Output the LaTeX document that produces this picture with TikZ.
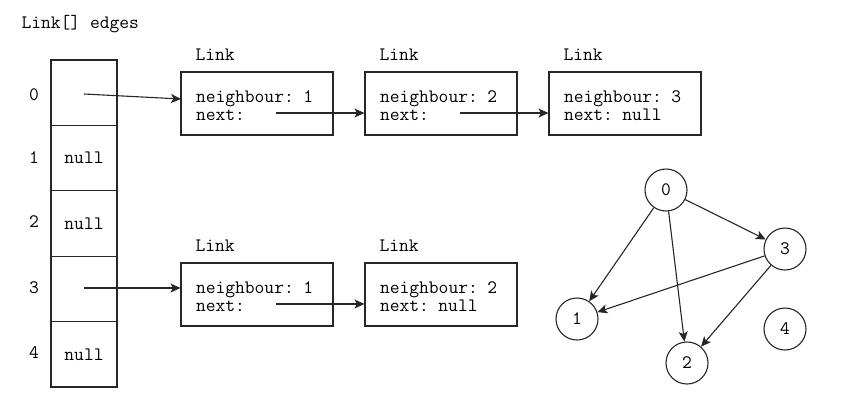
\documentclass[tikz,border=0pt]{standalone}
\usetikzlibrary{arrows.meta}
\newcommand{\topgap}{\rule{0pt}{17pt}}
\begin{document}
\begin{tikzpicture}[x=1pt,y=-1pt,
  font=\ttfamily\fontsize{19}{17}\selectfont,
  line width=1.1pt, draw=black!85,
  cell/.style={draw, minimum width=66pt, minimum height=65.4pt, inner sep=0pt},
  linkbox/.style={draw, minimum width=152pt, minimum height=63pt, text width=122pt, inner xsep=15pt, inner ysep=0pt, align=left},
  gnode/.style={draw, circle, minimum size=42pt, inner sep=0pt},
  lbl/.style={inner sep=0pt, anchor=west},
  arr/.style={-{Stealth[length=10pt,width=9pt,inset=2.5pt]}}]
\useasboundingbox (0,0) rectangle (845,402);
\node[lbl] (title) at (21,24) {Link[] edges};
% array
\node[cell] (c0) at (84,92.7) {};
\node[cell] (c1) at (84,158.1) {null};
\node[cell] (c2) at (84,223.5) {null};
\node[cell] (c3) at (84,288.9) {};
\node[cell] (c4) at (84,354.3) {null};
\foreach \i/\y in {0/95,1/158,2/222,3/288,4/353} {
  \node (i\i) at (34,\y) {\i};
}
% top row of links
\node[linkbox] (a1) at (257,103.5) {\topgap neighbour: 1\\[1pt]next:};
\node[linkbox] (a2) at (441,103.5) {\topgap neighbour: 2\\[1pt]next:};
\node[linkbox] (a3) at (625,103.5) {\topgap neighbour: 3\\[1pt]next: null};
\node[lbl] (la1) at (195,55) {Link};
\node[lbl] (la2) at (379,55) {Link};
\node[lbl] (la3) at (563,55) {Link};
% bottom row of links
\node[linkbox] (b1) at (257,294.5) {\topgap neighbour: 1\\[1pt]next:};
\node[linkbox] (b2) at (441,294.5) {\topgap neighbour: 2\\[1pt]next: null};
\node[lbl] (lb1) at (195,246) {Link};
\node[lbl] (lb2) at (379,246) {Link};
% pointer start points
\coordinate (p0) at (84,94);
\coordinate (p3) at (84,288);
\coordinate (na1) at (276,113);
\coordinate (na2) at (460,113);
\coordinate (nb1) at (276,304);
\coordinate (t0) at (181,99);
\draw[arr] (p0) -- (t0);
\draw[arr] (na1) -- (a2.west |- na1);
\draw[arr] (na2) -- (a3.west |- na2);
\draw[arr] (p3) -- (b1.west |- p3);
\draw[arr] (nb1) -- (b2.west |- nb1);
% graph
\node[gnode] (g0) at (666,190) {0};
\node[gnode] (g1) at (577,319) {1};
\node[gnode] (g2) at (687,363) {2};
\node[gnode] (g3) at (785,249) {3};
\node[gnode] (g4) at (785,329) {4};
\draw[arr] (g0) -- (g1);
\draw[arr] (g0) -- (g2);
\draw[arr] (g0) -- (g3);
\draw[arr] (g3) -- (g1);
\draw[arr] (g3) -- (g2);
\end{tikzpicture}
\end{document}
